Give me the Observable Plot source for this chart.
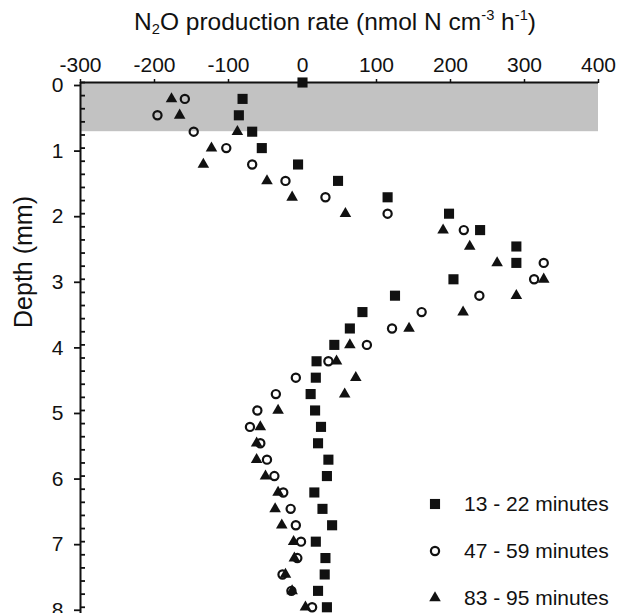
<!DOCTYPE html>
<html><head><meta charset="utf-8">
<script src="https://cdn.jsdelivr.net/npm/d3@7"></script>
<script src="https://cdn.jsdelivr.net/npm/@observablehq/plot@0.6"></script>
<style>
body{margin:0;background:#fff;font-family:"Liberation Sans",Arial,Helvetica,sans-serif;color:#111;}
#wrap{position:relative;width:624px;height:613px;overflow:hidden;}
#title{height:40px;box-sizing:border-box;padding-top:9px;padding-left:72px;width:598px;text-align:center;font-size:24.5px;line-height:26px;white-space:nowrap;}
#title sub,#title sup{font-size:0.6em;line-height:0;}
#title sub{vertical-align:-0.3em;}
#title sup{vertical-align:0.7em;}
#ylab{position:absolute;left:23px;top:262px;transform:translate(-50%,-50%) rotate(-90deg);font-size:25px;white-space:nowrap;}
.leg{position:absolute;display:flex;align-items:center;font-size:21px;white-space:nowrap;}
</style></head>
<body>
<div id="wrap">
<div id="title">N<sub>2</sub>O production rate (nmol N cm<sup>-3</sup> h<sup>-1</sup>)</div>
<div id="chart"></div>
<div id="ylab">Depth (mm)</div>
</div>
<script>
// ---- data ----
const depths = [0,0.25,0.5,0.75,1,1.25,1.5,1.75,2,2.25,2.5,2.75,3,3.25,3.5,3.75,4,4.25,4.5,4.75,5,5.25,5.5,5.75,6,6.25,6.5,6.75,7,7.25,7.5,7.75,8];
const min13_22 = [0,-81,-86,-68,-55,-6,48,115,198,240,289,289,204,125,81,64,43,19,18,11,17,25,21,35,33,16,27,40,18,31,30,21,33];
const min47_59 = [null,-159,-196,-147,-103,-68,-23,31,115,218,null,326,313,239,161,121,87,35,-9,-36,-61,-71,-57,-48,-38,-26,-16,-9,-2,-7,-27,-15,13];
const min83_95 = [null,-177,-166,-88,-123,-134,-48,-14,58,190,226,263,326,289,217,144,64,46,72,57,-33,-57,-62,-62,-50,-33,-37,-28,-12,-11,-23,-14,4];
const seriesNames = ["13 - 22 minutes","47 - 59 minutes","83 - 95 minutes"];
const xTicks = [-300,-200,-100,0,100,200,300,400];
const yTicks = [0,1,2,3,4,5,6,7,8];
const yMinorTicks = [0.2,0.4,0.6,0.8,1.2,1.4,1.6,1.8,2.2,2.4,2.6,2.8,3.2,3.4,3.6,3.8,4.2,4.4,4.6,4.8,5.2,5.4,5.6,5.8,6.2,6.4,6.6,6.8,7.2,7.4,7.6,7.8,8.2,8.4];
const shadedZone = [0, 0.75];

const rows = (vals) => depths.map((d,i)=>({depth:d, rate:vals[i]})).filter(r=>r.rate!=null);

const inwardTick = {draw(ctx){ctx.moveTo(0,0);ctx.lineTo(4.5,0);}};

const R = {sq:5.7, tri:4.3, circ:4.1};

const plot = Plot.plot({
  width: 624, height: 600,
  marginTop: 42, marginLeft: 80, marginRight: 26, marginBottom: 7,
  style: {fontFamily: '"Liberation Sans",Arial,Helvetica,sans-serif', fontSize: "21px", color:"#111", background:"#fff", overflow:"visible"},
  x: {domain: [xTicks[0], xTicks[xTicks.length-1]]},
  y: {domain: [0, 8.4], reverse: true},
  marks: [
    Plot.rect([{y1: shadedZone[0], y2: shadedZone[1]}], {y1:"y1", y2:"y2", fill:"#c2c2c2"}),
    Plot.ruleY([0], {stroke:"#111", strokeWidth:2}),
    Plot.ruleX([xTicks[0]], {stroke:"#111", strokeWidth:2}),
    Plot.axisX({anchor:"top", ticks:xTicks, tickSize:4, tickPadding:7, tickFormat:d=>String(d), label:null, strokeWidth:1.5, fontSize:21}),
    Plot.axisY({anchor:"left", ticks:yTicks, tickSize:6, tickPadding:11, tickFormat:d=>String(d), label:null, strokeWidth:1.8, fontSize:21, dy:3}),
    Plot.dot(yTicks.concat(yMinorTicks), {x:()=>xTicks[0], y:d=>d, symbol:inwardTick, stroke:"#111", strokeWidth:1.8, r:3}),
    Plot.dot(rows(min13_22), {x:"rate", y:"depth", symbol:"square", fill:"#111", r:R.sq}),
    Plot.dot(rows(min83_95), {x:"rate", y:"depth", symbol:"triangle", fill:"#111", r:R.tri}),
    Plot.dot(rows(min47_59), {x:"rate", y:"depth", symbol:"circle", fill:"none", stroke:"#111", strokeWidth:2.2, r:R.circ})
  ]
});
document.getElementById("chart").appendChild(plot);

// ---- legend (overlay) ----
const legSymbols = [
  {sym:d3.symbolSquare, r:R.sq, fill:"#111", stroke:"none"},
  {sym:d3.symbolCircle, r:R.circ, fill:"none", stroke:"#111"},
  {sym:d3.symbolTriangle, r:R.tri, fill:"#111", stroke:"none"}
];
const wrap = document.getElementById("wrap");
seriesNames.forEach((name,i)=>{
  const div = document.createElement("div");
  div.className = "leg";
  div.style.left = "423px";
  div.style.top = (492 + i*47) + "px";
  div.style.height = "24px";
  const s = legSymbols[i];
  const path = d3.symbol(s.sym, s.r*s.r*Math.PI)();
  div.innerHTML = `<svg width="24" height="24" viewBox="-12 -12 24 24" style="margin-right:17px"><path d="${path}" fill="${s.fill}" stroke="${s.stroke}" stroke-width="2.2"/></svg><span>${name}</span>`;
  wrap.appendChild(div);
});
</script>
</body></html>
